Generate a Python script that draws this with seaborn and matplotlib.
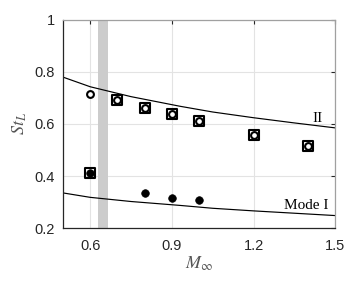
import numpy as np
import pandas as pd
import matplotlib
matplotlib.use("Agg")
import matplotlib.pyplot as plt
import seaborn as sns

# Data
curve_M = [0.5, 0.6, 0.75, 0.93, 1.05, 1.2, 1.35, 1.5]
mode2_curve = [0.780, 0.743, 0.705, 0.668, 0.646, 0.624, 0.604, 0.585]
mode1_curve = [0.335, 0.318, 0.302, 0.287, 0.276, 0.266, 0.257, 0.248]

open_M = [0.6, 0.7, 0.8, 0.9, 1.0, 1.2, 1.4]
open_St = [0.716, 0.691, 0.663, 0.640, 0.612, 0.558, 0.514]

square_M = [0.6, 0.7, 0.8, 0.9, 1.0, 1.2, 1.4]
square_St = [0.413, 0.691, 0.663, 0.640, 0.612, 0.558, 0.514]

filled_M = [0.6, 0.8, 0.9, 1.0]
filled_St = [0.411, 0.335, 0.317, 0.307]

band = (0.63, 0.665)
xticks = [0.6, 0.9, 1.2, 1.5]
yticks = [0.2, 0.4, 0.6, 0.8, 1.0]
yticklabels = ["0.2", "0.4", "0.6", "0.8", "1"]

sns.set_theme(style="white")
plt.rcParams["font.family"] = ["Liberation Sans", "DejaVu Sans"]
plt.rcParams["mathtext.fontset"] = "stix"

fig = plt.figure(figsize=(3.6, 2.84), dpi=100)
ax = fig.add_axes([0.175, 0.197, 0.756, 0.733])

ax.axvspan(band[0], band[1], color="#cccccc", zorder=1, lw=0)

curves = pd.DataFrame({"M": curve_M, "II": mode2_curve, "I": mode1_curve})
sns.lineplot(data=curves, x="M", y="II", ax=ax, color="black", lw=0.85, zorder=2)
sns.lineplot(data=curves, x="M", y="I", ax=ax, color="black", lw=0.85, zorder=2)

sq = pd.DataFrame({"M": square_M, "St": square_St})
sns.scatterplot(data=sq, x="M", y="St", ax=ax, marker="s", s=52,
                facecolor="none", edgecolor="black", linewidth=1.5, zorder=3)
fi = pd.DataFrame({"M": filled_M, "St": filled_St})
sns.scatterplot(data=fi, x="M", y="St", ax=ax, marker="o", s=30,
                color="black", edgecolor="black", linewidth=0.5, zorder=4)
op = pd.DataFrame({"M": open_M, "St": open_St})
sns.scatterplot(data=op, x="M", y="St", ax=ax, marker="o", s=24,
                facecolor="white", edgecolor="black", linewidth=1.5, zorder=5)

ax.set_xlim(0.5, 1.5)
ax.set_ylim(0.2, 1.0)
ax.set_xticks(xticks)
ax.set_xticklabels([str(t) for t in xticks])
ax.set_yticks(yticks)
ax.set_yticklabels(yticklabels)
ax.grid(True, color="#e3e3e3", lw=0.8)
ax.set_axisbelow(True)
ax.tick_params(direction="in", length=3, width=0.8, colors="#262626",
               labelsize=10.5, top=True, right=True, labeltop=False, labelright=False)
ax.tick_params(axis="x", pad=8)
ax.tick_params(axis="y", pad=6)
for s in ["left", "bottom"]:
    ax.spines[s].set_color("#262626")
    ax.spines[s].set_linewidth(0.9)
for s in ["top", "right"]:
    ax.spines[s].set_color("#a0a0a0")
    ax.spines[s].set_linewidth(0.9)

ax.set_xlabel(r"$M_\infty$", fontsize=13, color="#555555", labelpad=1)
ax.set_ylabel(r"$St_L$", fontsize=13, color="#555555", labelpad=4)

ax.text(1.435, 0.622, "II", fontsize=11, family="Liberation Serif", color="black",
        ha="center", va="center")
ax.text(1.395, 0.285, "Mode I", fontsize=11, family="Liberation Serif", color="black",
        ha="center", va="center")

fig.savefig("out.png", dpi=100)
